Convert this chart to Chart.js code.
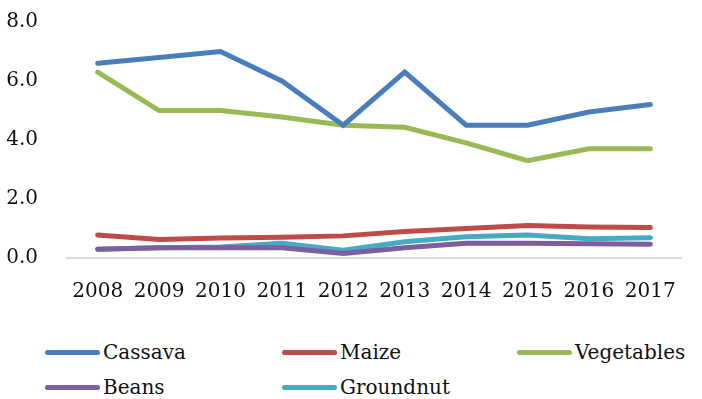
<!DOCTYPE html>
<html>
<head>
<meta charset="utf-8">
<script src="https://cdn.jsdelivr.net/npm/chart.js@4.4.1/dist/chart.umd.min.js"></script>
<style>
    html, body { margin: 0; padding: 0; background: #fff; }
    #wrap { position: relative; width: 702px; height: 399px; }
    #chart-box { position: absolute; left: 0; top: 0; width: 702px; height: 320px; }
    #legend {
        position: absolute; left: 45px; top: 340px; width: 660px;
        display: grid; grid-template-columns: 237px 235px 180px; row-gap: 11px;
        font-family: 'DejaVu Serif', serif; font-size: 20px; color: #111;
    }
    .item { display: flex; align-items: center; height: 24px; }
    .swatch { width: 55px; height: 5px; border-radius: 3px; margin-right: 3px; }
</style>
</head>
<body>
<div id="wrap">
    <div id="chart-box"><canvas id="chart-line"></canvas></div>
    <div id="legend"></div>
</div>
<script>
// ─── Data ────────────────────────────────────────────────────────────────────
const years = ['2008', '2009', '2010', '2011', '2012', '2013', '2014', '2015', '2016', '2017'];

const cassava    = [6.6, 6.8, 7.0, 6.0, 4.5, 6.3, 4.5, 4.5, 4.95, 5.2];
const maize      = [0.78, 0.63, 0.68, 0.7, 0.75, 0.9, 1.0, 1.1, 1.05, 1.03];
const vegetables = [6.3, 5.0, 5.0, 4.78, 4.5, 4.43, 3.9, 3.3, 3.7, 3.7];
const beans      = [0.3, 0.35, 0.35, 0.35, 0.15, 0.35, 0.5, 0.5, 0.48, 0.47];
const groundnut  = [0.3, 0.35, 0.37, 0.5, 0.26, 0.55, 0.72, 0.78, 0.65, 0.69];

const yTicks = [0, 2, 4, 6, 8];

const SERIES = [
    { label: 'Cassava',    data: cassava,    color: '#4A7EBB' },
    { label: 'Maize',      data: maize,      color: '#BE4B48' },
    { label: 'Vegetables', data: vegetables, color: '#98B954' },
    { label: 'Beans',      data: beans,      color: '#7D5FA0' },
    { label: 'Groundnut',  data: groundnut,  color: '#46AAC5' },
];

const FONT = { family: "'DejaVu Serif', serif", size: 20 };

// ─── Chart ───────────────────────────────────────────────────────────────────
const ctx = document.getElementById('chart-line').getContext('2d');

const chart = new Chart(ctx, {
    type: 'line',
    data: {
        labels: years,
        datasets: SERIES.map(s => ({
            label: s.label,
            data: s.data,
            borderColor: s.color,
            backgroundColor: s.color,
            borderWidth: 5,
            pointRadius: 0,
            tension: 0,
            borderCapStyle: 'round',
            borderJoinStyle: 'miter',
        }))
    },
    options: {
        responsive: true,
        maintainAspectRatio: false,
        animation: false,
        layout: { padding: { top: 22, right: 21, bottom: 7, left: 0 } },
        plugins: {
            legend: { display: false },
            tooltip: { enabled: false },
        },
        scales: {
            x: {
                offset: true,
                grid: { display: false },
                border: { display: true, color: '#d9d9d9', width: 2 },
                ticks: { color: '#111', font: FONT, padding: 14, maxRotation: 0, autoSkip: false },
                afterFit: s => { s.height = 55; },
            },
            y: {
                min: 0, max: 8,
                afterBuildTicks: s => { s.ticks = yTicks.map(v => ({ value: v })); },
                grid: { display: false },
                border: { display: false },
                ticks: { color: '#111', font: FONT, padding: 21, callback: v => v.toFixed(1) },
                // tick padding otherwise pushes the plot top down
                afterFit: s => { s.width = 67; s.paddingTop = 12; s.paddingBottom = 12; },
            },
        },
    }
});

// ─── Legend (grid layout like the source) ────────────────────────────────────
const legendEl = document.getElementById('legend');
SERIES.forEach(s => {
    const item = document.createElement('div');
    item.className = 'item';
    item.innerHTML = `<span class="swatch" style="background:${s.color}"></span><span>${s.label}</span>`;
    legendEl.appendChild(item);
});
</script>
</body>
</html>
